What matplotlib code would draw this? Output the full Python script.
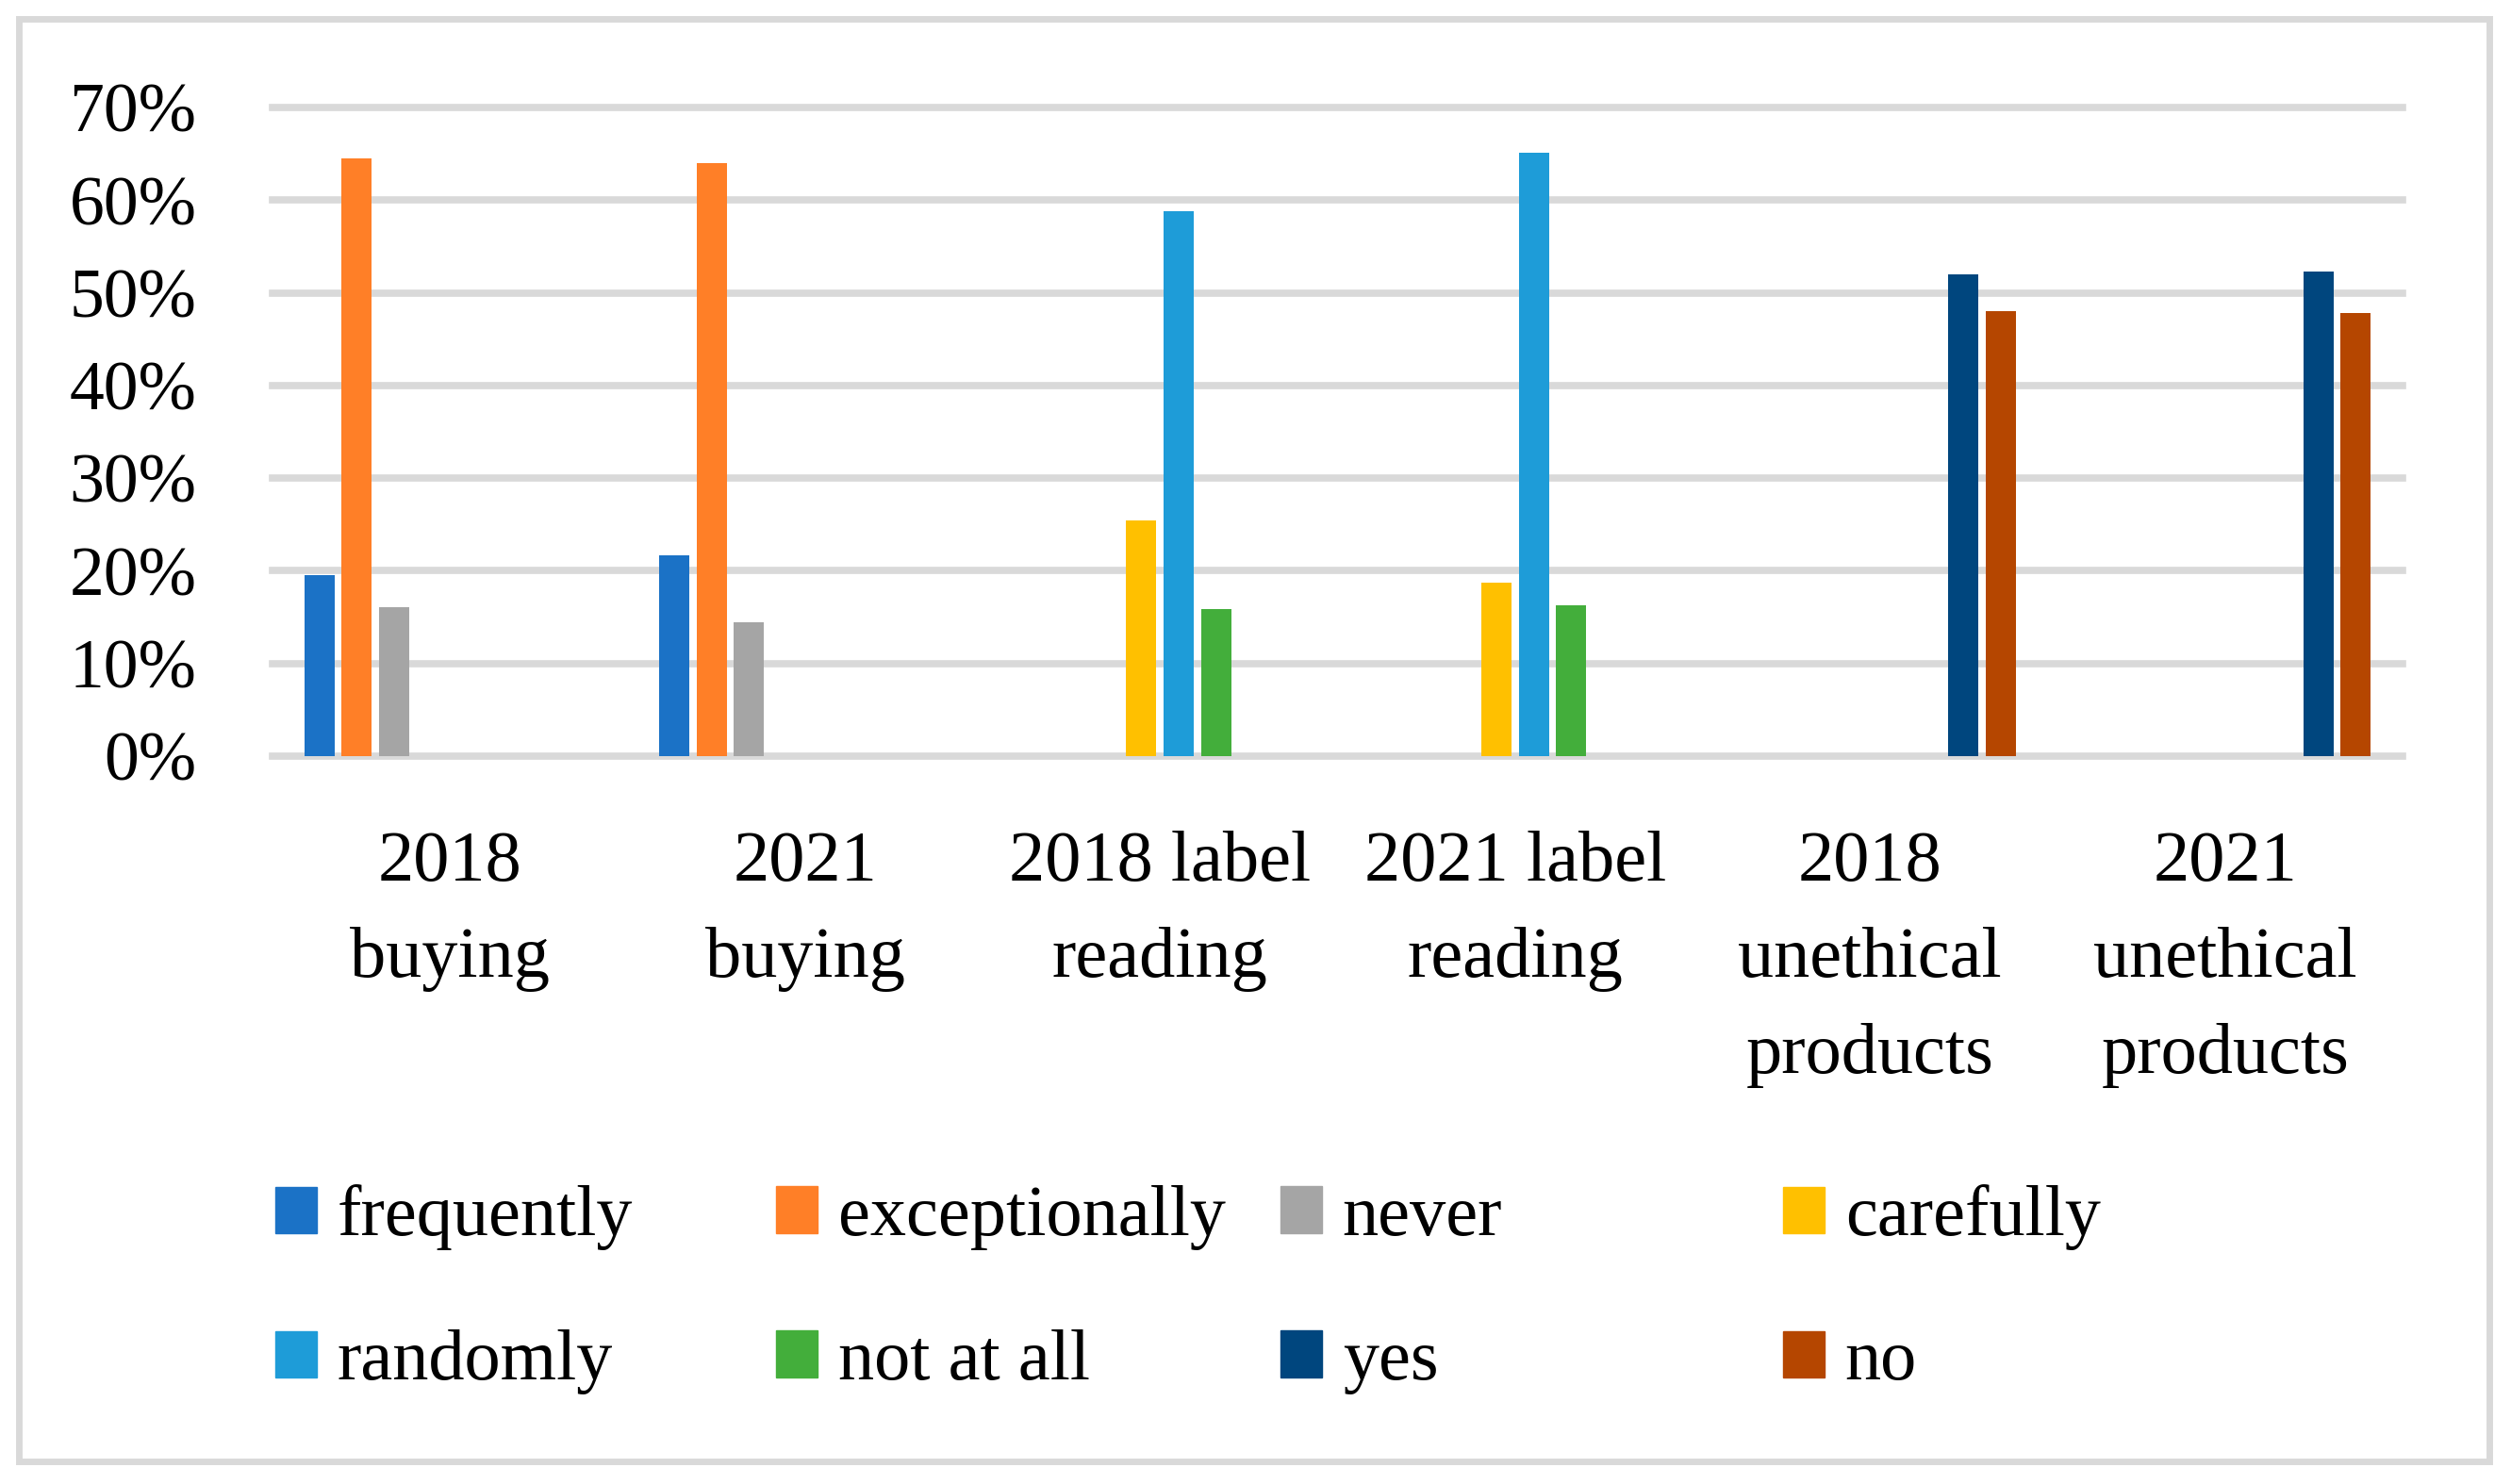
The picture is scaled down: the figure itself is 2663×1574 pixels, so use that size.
import numpy as np
import matplotlib
matplotlib.use("Agg")
import matplotlib.pyplot as plt
from matplotlib.patches import Rectangle, Patch

categories = ["2018\nbuying", "2021\nbuying", "2018 label\nreading", "2021 label\nreading",
              "2018\nunethical\nproducts", "2021\nunethical\nproducts"]
series_names = ["frequently", "exceptionally", "never", "carefully",
                "randomly", "not at all", "yes", "no"]
frequently    = [0.195, 0.217, 0, 0, 0, 0]
exceptionally = [0.645, 0.640, 0, 0, 0, 0]
never         = [0.161, 0.144, 0, 0, 0, 0]
carefully     = [0, 0, 0.254, 0.187, 0, 0]
randomly      = [0, 0, 0.588, 0.651, 0, 0]
not_at_all    = [0, 0, 0.159, 0.163, 0, 0]
yes           = [0, 0, 0, 0, 0.520, 0.523]
no            = [0, 0, 0, 0, 0.480, 0.478]
series_values = [frequently, exceptionally, never, carefully, randomly, not_at_all, yes, no]
colors = ["#1B72C6", "#FF7F27", "#A5A5A5", "#FFC000", "#1E9CD8", "#43AE3B", "#00467E", "#B54600"]
yticks = [0, 0.1, 0.2, 0.3, 0.4, 0.5, 0.6, 0.7]
ytick_labels = ["0%", "10%", "20%", "30%", "40%", "50%", "60%", "70%"]

W, H = 2663, 1574
DPI = 100
FS = 53
FS2 = 55
font = "Liberation Serif"
plt.rcParams["font.family"] = [font, "DejaVu Serif"]

fig = plt.figure(figsize=(W / DPI, H / DPI), dpi=DPI)
ax = fig.add_axes([289 / W, 1 - 802 / H, (2548 - 289) / W, (802 - 114) / H])

n = len(series_values)
step = 0.105
width = 0.085
x = np.arange(len(categories))
for i, (vals, c) in enumerate(zip(series_values, colors)):
    ax.bar(x + (i - (n - 1) / 2) * step, vals, width=width, color=c, label=series_names[i], zorder=3)

ax.set_xlim(-0.5, len(categories) - 0.5)
ax.set_ylim(0, 0.7)
ax.set_yticks(yticks)
ax.set_yticklabels(ytick_labels, fontsize=FS)
ax.set_xticks(x)
ax.set_xticklabels(categories, fontsize=FS2, linespacing=1.62, va="top")
ax.tick_params(axis="y", length=0, pad=58)
ax.tick_params(axis="x", length=0, pad=57)
for s in ax.spines.values():
    s.set_visible(False)
ax.yaxis.grid(True, color="#D9D9D9", linewidth=5.5, zorder=0)
ax.set_axisbelow(True)
for gl in ax.get_ygridlines():
    gl.set_clip_on(False)

# legends: four columns, two rows each
col_x = [292, 823, 1358, 1891]
handles = [Patch(color=c) for c in colors]
for j in range(4):
    leg = fig.legend([handles[j], handles[j + 4]], [series_names[j], series_names[j + 4]],
                     loc="center left", bbox_to_anchor=(col_x[j] / W, 1 - 1368 / H),
                     frameon=False, fontsize=FS2, handlelength=0.58, handleheight=0.615,
                     handletextpad=0.28, labelspacing=1.1, borderpad=0, borderaxespad=0)

fig.add_artist(Rectangle((20 / W, 1 - 1550 / H), (2640 - 20) / W, (1550 - 20) / H,
                         transform=fig.transFigure, fill=False, edgecolor="#D9D9D9",
                         linewidth=5))

fig.savefig("out.png", dpi=DPI, facecolor="white")
